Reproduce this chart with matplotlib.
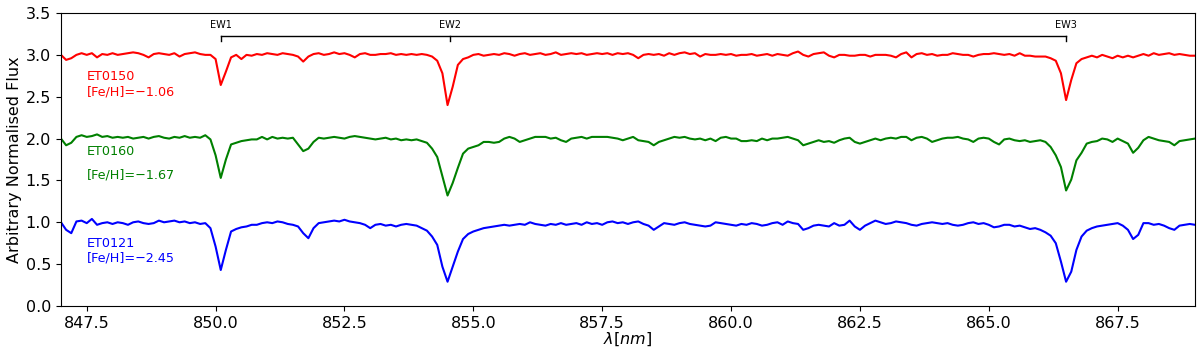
import numpy as np
import matplotlib
matplotlib.use('Agg')
import matplotlib.pyplot as plt

# wavelength grid (nm), 0.1 nm steps
wl = np.round(np.arange(847.0, 869.05, 0.1), 1)

# ET0150, shifted by +2
flux_et0150 = [
    3.00, 2.94, 2.96, 3.00, 3.02, 3.00, 3.02, 2.97, 3.01, 3.00,
    3.02, 3.00, 3.01, 3.02, 3.03, 3.02, 3.00, 2.97, 3.01, 3.02,
    3.01, 3.00, 3.02, 2.98, 3.01, 3.02, 3.03, 3.01, 3.00, 3.00,
    2.95, 2.64, 2.80, 2.97, 3.00, 2.95, 3.00, 2.99, 3.01, 3.00,
    3.02, 3.01, 3.00, 3.02, 3.01, 3.00, 2.98, 2.92, 2.98, 3.01,
    3.02, 3.00, 3.01, 3.03, 3.01, 3.02, 3.00, 2.97, 3.01, 3.02,
    3.00, 3.00, 3.01, 3.01, 3.02, 3.00, 3.01, 3.00, 3.01, 3.00,
    3.01, 3.00, 2.98, 2.93, 2.78, 2.40, 2.62, 2.88, 2.95, 2.97,
    3.00, 3.01, 2.99, 3.00, 3.01, 3.00, 3.02, 3.01, 2.99, 3.01,
    3.02, 3.00, 3.01, 3.02, 3.00, 3.01, 3.03, 3.00, 3.01, 3.02,
    3.01, 3.02, 3.00, 3.01, 3.02, 3.01, 3.02, 3.00, 3.02, 3.01,
    3.02, 3.00, 2.96, 3.00, 3.01, 3.00, 3.01, 2.99, 3.02, 3.00,
    3.02, 3.03, 3.01, 3.02, 2.98, 3.01, 3.00, 3.00, 3.01, 3.00,
    3.01, 2.99, 3.00, 3.00, 3.01, 2.99, 3.00, 3.01, 2.99, 3.01,
    3.00, 2.99, 3.02, 3.04, 3.00, 2.98, 3.01, 3.02, 3.03, 2.99,
    2.97, 3.00, 3.00, 2.99, 2.99, 3.00, 3.00, 2.98, 3.00, 3.00,
    3.00, 2.99, 2.97, 3.01, 3.03, 2.97, 3.01, 3.02, 3.00, 3.01,
    2.99, 3.00, 3.00, 3.02, 3.01, 3.00, 3.00, 2.98, 3.00, 3.01,
    3.01, 3.02, 3.01, 3.00, 3.01, 2.99, 3.02, 2.99, 2.99, 2.98,
    2.98, 2.98, 2.96, 2.93, 2.78, 2.46, 2.70, 2.90, 2.95, 2.97,
    2.99, 2.97, 3.00, 2.98, 2.96, 2.99, 2.97, 2.99, 2.97, 2.99,
    3.01, 2.99, 3.02, 3.00, 3.01, 3.02, 3.00, 3.01, 3.00, 2.99,
    2.99,
]

# ET0160, shifted by +1
flux_et0160 = [
    2.00, 1.92, 1.95, 2.02, 2.04, 2.02, 2.03, 2.05, 2.02, 2.03,
    2.01, 2.02, 2.01, 2.02, 2.00, 2.01, 2.02, 2.00, 2.02, 2.03,
    2.01, 2.00, 2.02, 2.01, 2.03, 2.01, 2.02, 2.01, 2.04, 1.99,
    1.80, 1.53, 1.75, 1.93, 1.95, 1.97, 1.98, 1.99, 1.99, 2.02,
    1.99, 2.02, 2.00, 2.01, 2.00, 2.01, 1.93, 1.85, 1.88, 1.96,
    2.01, 2.00, 2.01, 2.02, 2.01, 2.00, 2.02, 2.03, 2.02, 2.01,
    2.00, 1.99, 2.00, 2.01, 1.99, 2.00, 1.98, 1.99, 1.98, 1.99,
    1.97, 1.95, 1.88, 1.78, 1.55, 1.32, 1.47, 1.65, 1.82, 1.88,
    1.90, 1.92, 1.96, 1.96, 1.95, 1.96, 2.00, 2.02, 2.00, 1.96,
    1.98, 2.00, 2.02, 2.02, 2.02, 2.00, 2.01, 1.98, 1.96, 2.00,
    2.01, 2.02, 2.00, 2.02, 2.02, 2.02, 2.02, 2.01, 2.00, 1.98,
    2.00, 2.02, 1.98, 1.97, 1.96, 1.92, 1.96, 1.98, 2.00, 2.02,
    2.01, 2.02, 2.00, 1.99, 2.00, 1.98, 2.00, 1.97, 2.01, 2.02,
    2.00, 2.00, 1.97, 1.97, 1.98, 1.97, 2.00, 1.98, 2.00, 2.00,
    2.01, 2.02, 2.00, 1.98, 1.92, 1.94, 1.96, 1.98, 1.96, 1.97,
    1.95, 1.98, 2.00, 2.01, 1.96, 1.94, 1.96, 1.98, 2.00, 1.98,
    2.00, 2.01, 2.00, 2.02, 2.02, 1.98, 2.01, 2.02, 2.00, 1.96,
    1.98, 2.00, 2.01, 2.01, 2.02, 2.00, 1.99, 1.96, 2.00, 2.01,
    2.00, 1.96, 1.93, 1.99, 2.00, 1.98, 1.97, 1.98, 1.96, 1.97,
    1.98, 1.96, 1.90, 1.80, 1.66, 1.38, 1.51, 1.74, 1.83, 1.94,
    1.96, 1.97, 2.00, 1.99, 1.96, 2.00, 1.97, 1.94, 1.83, 1.89,
    1.98, 2.02, 2.00, 1.98, 1.97, 1.96, 1.92, 1.97, 1.98, 1.99,
    2.00,
]

# ET0121, no shift
flux_et0121 = [
    1.00, 0.91, 0.87, 1.01, 1.02, 0.99, 1.04, 0.97, 0.99, 1.00,
    0.98, 1.00, 0.99, 0.97, 1.00, 1.01, 0.99, 0.98, 0.99, 1.02,
    1.00, 1.01, 1.02, 1.00, 1.01, 0.99, 1.00, 0.98, 0.99, 0.93,
    0.71, 0.43, 0.67, 0.89, 0.92, 0.94, 0.95, 0.97, 0.97, 0.99,
    1.00, 0.99, 1.01, 1.00, 0.98, 0.97, 0.95, 0.87, 0.81, 0.93,
    0.99, 1.00, 1.01, 1.02, 1.01, 1.03, 1.01, 1.00, 0.99, 0.97,
    0.93, 0.97, 0.98, 0.96, 0.97, 0.95, 0.97, 0.98, 0.97, 0.96,
    0.93, 0.90, 0.83, 0.73, 0.47, 0.29, 0.47, 0.65, 0.80, 0.86,
    0.89, 0.91, 0.93, 0.94, 0.95, 0.96, 0.97, 0.96, 0.97, 0.98,
    0.97, 1.00, 0.98, 0.97, 0.96, 0.98, 0.97, 0.99, 0.97, 0.98,
    0.99, 0.97, 1.00, 0.98, 0.99, 0.97, 1.00, 1.01, 0.99, 1.00,
    0.98, 1.00, 1.01, 0.98, 0.96, 0.91, 0.95, 0.99, 0.98, 0.97,
    0.99, 1.00, 0.98, 0.97, 0.96, 0.95, 0.96, 1.00, 0.99, 0.98,
    0.97, 0.96, 0.98, 0.97, 0.99, 0.98, 0.96, 0.97, 0.99, 1.00,
    0.97, 1.01, 0.99, 0.98, 0.91, 0.93, 0.96, 0.97, 0.96, 0.95,
    0.99, 0.96, 0.97, 1.02, 0.95, 0.91, 0.96, 0.99, 1.02, 1.00,
    0.98, 0.99, 1.01, 1.00, 0.99, 0.97, 0.96, 0.98, 0.99, 1.00,
    0.99, 0.98, 0.99, 0.97, 0.96, 0.97, 0.99, 1.00, 0.98, 0.99,
    0.97, 0.94, 0.95, 0.97, 0.97, 0.95, 0.96, 0.94, 0.92, 0.93,
    0.91, 0.88, 0.84, 0.75, 0.53, 0.29, 0.41, 0.67, 0.83, 0.90,
    0.93, 0.95, 0.96, 0.97, 0.98, 0.99, 0.96, 0.91, 0.80, 0.85,
    0.99, 0.99, 0.97, 0.98, 0.96, 0.93, 0.91, 0.96, 0.97, 0.98,
    0.97,
]

# Ca triplet line positions used for the EW bracket
ew_names = ['EW1', 'EW2', 'EW3']
ew_wl = [850.1, 854.55, 866.5]

star_ids = ['ET0150', 'ET0160', 'ET0121']
feh = ['[Fe/H]=\u22121.06', '[Fe/H]=\u22121.67', '[Fe/H]=\u22122.45']

fig = plt.figure(figsize=(12, 3.48), dpi=100)
ax = fig.add_subplot(111)
fig.subplots_adjust(left=0.0508, right=0.9958, bottom=0.1207, top=0.9626)

ax.plot(wl, flux_et0150, color='r', lw=1.5)
ax.plot(wl, flux_et0160, color='g', lw=1.5)
ax.plot(wl, flux_et0121, color='b', lw=1.5)

# labels next to each spectrum
ax.text(847.5, 2.74, star_ids[0], color='r', fontsize=9.2, va='center')
ax.text(847.5, 2.56, feh[0], color='r', fontsize=9.2, va='center')
ax.text(847.5, 1.84, star_ids[1], color='g', fontsize=9.2, va='center')
ax.text(847.5, 1.565, feh[1], color='g', fontsize=9.2, va='center')
ax.text(847.5, 0.75, star_ids[2], color='b', fontsize=9.2, va='center')
ax.text(847.5, 0.57, feh[2], color='b', fontsize=9.2, va='center')

# bracket marking the three lines
ax.plot([ew_wl[0], ew_wl[-1]], [3.23, 3.23], color='k', lw=1)
for name, w in zip(ew_names, ew_wl):
    ax.plot([w, w], [3.23, 3.17], color='k', lw=1)
    ax.text(w, 3.36, name, fontsize=7, ha='center', va='center')

ax.set_xlim(847.0, 869.0)
ax.set_ylim(0, 3.5)
ax.set_xticks(np.arange(847.5, 869, 2.5))
ax.set_yticks(np.arange(0, 3.51, 0.5))
ax.tick_params(labelsize=11.5)
ax.set_xlabel(r'$\lambda[nm]$', fontsize=11.5, labelpad=0)
ax.set_ylabel('Arbitrary Normalised Flux', fontsize=11.5, labelpad=3)

plt.savefig('out.png')
